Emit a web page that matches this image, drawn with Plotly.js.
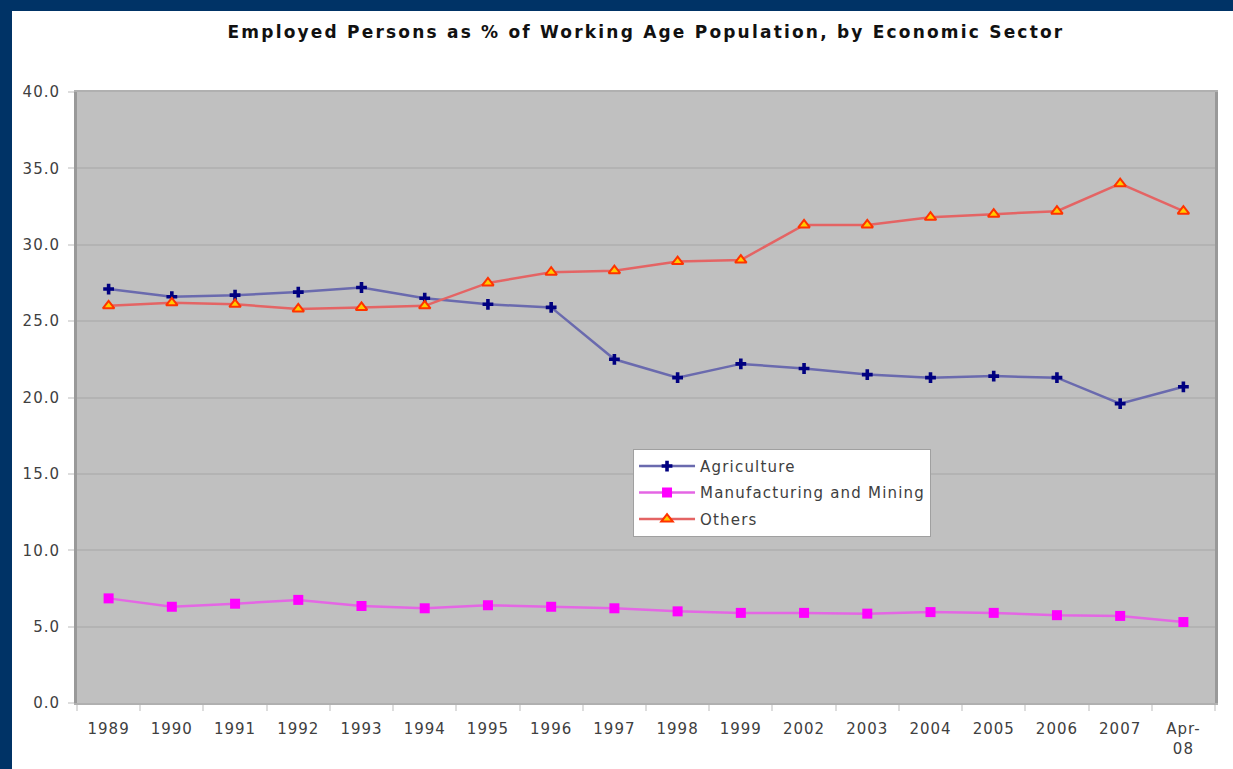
<!DOCTYPE html>
<html>
<head>
<meta charset="utf-8">
<script src="https://cdn.plot.ly/plotly-3.0.1.min.js"></script>
<style>
  html, body { margin: 0; padding: 0; background: #003366; width: 1233px; height: 769px; overflow: hidden; }
  #chart { position: absolute; left: 12px; top: 11px; width: 1221px; height: 758px; background: #ffffff; }
  #chart .xtick text, #chart .ytick text { letter-spacing: 1px; }
  .legendtext { letter-spacing: 1.2px; }
  #chart .gtitle { letter-spacing: 2.2px; }
</style>
</head>
<body>
<div id="chart"></div>
<script>
const categories = ['1989','1990','1991','1992','1993','1994','1995','1996','1997','1998','1999','2002','2003','2004','2005','2006','2007','Apr-<br>08'];
const agriculture = [27.1, 26.6, 26.7, 26.9, 27.2, 26.5, 26.1, 25.9, 22.5, 21.3, 22.2, 21.9, 21.5, 21.3, 21.4, 21.3, 19.6, 20.7];
const manufacturing = [6.85, 6.3, 6.5, 6.75, 6.35, 6.2, 6.4, 6.3, 6.2, 6.0, 5.9, 5.9, 5.85, 5.95, 5.9, 5.75, 5.7, 5.3];
const others = [26.0, 26.2, 26.1, 25.8, 25.9, 26.0, 27.5, 28.2, 28.3, 28.9, 29.0, 31.3, 31.3, 31.8, 32.0, 32.2, 34.0, 32.2];
const yTicks = [0, 5, 10, 15, 20, 25, 30, 35, 40];

const traces = [
  {
    x: categories, y: agriculture, name: 'Agriculture', type: 'scatter', mode: 'lines+markers',
    legendgroup: 'a',
    line: {color: '#6a6aae', width: 2.5},
    marker: {symbol: 'cross', size: 9, color: '#000080', line: {width: 0}}
  },
  {
    x: categories, y: manufacturing, name: 'Manufacturing and Mining', type: 'scatter', mode: 'lines+markers',
    legendgroup: 'b',
    line: {color: '#e466e4', width: 2.5},
    marker: {symbol: 'square', size: 10, color: '#ff00ff', line: {width: 0}}
  },
  {
    x: categories, y: others, name: 'Others', type: 'scatter', mode: 'lines+markers',
    legendgroup: 'c',
    line: {color: '#e46464', width: 2.5},
    marker: {symbol: 'triangle-up', size: 10, color: '#ffcc00', line: {color: '#ff3300', width: 2}}
  }
];

const layout = {
  width: 1221, height: 758,
  margin: {l: 65, r: 18, t: 81, b: 66},
  paper_bgcolor: '#ffffff',
  plot_bgcolor: '#c0c0c0',
  font: {family: 'DejaVu Sans, Arial, sans-serif', color: '#404040', size: 14},
  title: {
    text: 'Employed Persons as % of Working Age Population, by Economic Sector',
    font: {family: 'DejaVu Sans, Arial, sans-serif', size: 17, color: '#111111', weight: 'bold'},
    x: 0.5, xref: 'paper', xanchor: 'center',
    y: 1 - 21 / 758, yref: 'container', yanchor: 'middle'
  },
  xaxis: {
    type: 'category',
    range: [-0.5, categories.length - 0.5],
    autorange: false,
    tickson: 'boundaries',
    ticks: 'outside', ticklen: 6, tickcolor: '#dddddd', tickwidth: 2,
    showline: true, linecolor: '#b0b0b0', linewidth: 2, mirror: true,
    showgrid: false, zeroline: false,
    tickfont: {size: 15, color: '#404040'},
    ticklabelstandoff: 11,
    fixedrange: true
  },
  yaxis: {
    range: [0, 40],
    tickvals: yTicks,
    tickformat: '.1f',
    ticks: 'outside', ticklen: 6, tickcolor: '#dddddd', tickwidth: 2,
    showline: true, linecolor: '#999999', linewidth: 3, mirror: true,
    showgrid: true, gridcolor: '#b3b3b3', gridwidth: 2,
    zeroline: false,
    tickfont: {size: 15, color: '#404040'},
    ticklabelstandoff: 5,
    fixedrange: true
  },
  legend: {
    x: 0.4886, y: 0.416, xanchor: 'left', yanchor: 'top',
    bgcolor: '#ffffff', bordercolor: '#a0a0a0', borderwidth: 1,
    font: {size: 15, color: '#404040'},
    traceorder: 'grouped', tracegroupgap: 4,
    itemwidth: 56
  },
  showlegend: true
};

Plotly.newPlot('chart', traces, layout, {displayModeBar: false, staticPlot: true});
</script>
</body>
</html>
